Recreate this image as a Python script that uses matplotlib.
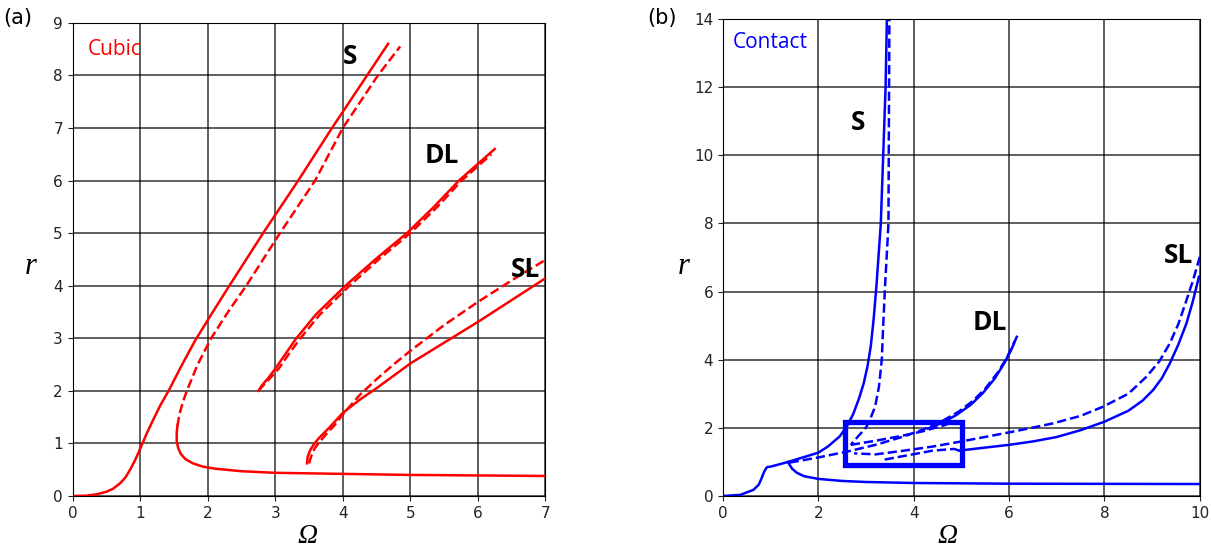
import matplotlib
matplotlib.use("Agg")
import matplotlib.pyplot as plt
from matplotlib.patches import Rectangle

plt.rcParams['font.family'] = 'DejaVu Sans'

# ---- (a) Cubic ----
cub_s_solid_x = [0, 0.2, 0.35, 0.5, 0.6, 0.7, 0.78, 0.85, 0.92, 1.0, 1.1, 1.2, 1.3, 1.42, 1.6,
                 1.81, 2.06, 2.32, 2.82, 3.34, 3.84, 4.36, 4.67]
cub_s_solid_y = [0, 0.005, 0.03, 0.08, 0.14, 0.24, 0.35, 0.5, 0.67, 0.9, 1.2, 1.47, 1.73, 2.0, 2.45,
                 2.95, 3.47, 4.0, 5.0, 6.0, 7.0, 8.0, 8.6]
cub_s_dash_x = [1.55, 1.58, 1.63, 1.69, 1.85, 2.05, 2.3, 2.57, 3.07, 3.59, 4.0, 4.52, 4.85]
cub_s_dash_y = [1.33, 1.55, 1.78, 2.0, 2.5, 3.0, 3.5, 4.0, 5.0, 6.0, 7.0, 8.0, 8.55]
cub_low_x = [1.55, 1.54, 1.54, 1.56, 1.6, 1.67, 1.78, 1.92, 2.1, 2.5, 3.0, 4.0, 5.0, 7.0]
cub_low_y = [1.33, 1.2, 1.05, 0.92, 0.8, 0.7, 0.62, 0.56, 0.52, 0.47, 0.44, 0.42, 0.4, 0.38]
cub_dl_solid_x = [2.75, 2.8, 2.9, 3.0, 3.15, 3.3, 3.6, 4.04, 4.5, 4.95, 5.35, 5.72, 6.25]
cub_dl_solid_y = [2.0, 2.1, 2.25, 2.42, 2.7, 2.98, 3.45, 4.0, 4.52, 5.0, 5.5, 6.0, 6.6]
cub_dl_dash_x = [2.75, 2.82, 2.93, 3.05, 3.2, 3.36, 3.66, 4.1, 4.55, 5.0, 5.4, 5.76, 6.2]
cub_dl_dash_y = [2.0, 2.1, 2.25, 2.42, 2.7, 2.98, 3.45, 4.0, 4.52, 5.0, 5.5, 6.0, 6.5]
cub_sl_solid_x = [3.47, 3.48, 3.52, 3.58, 3.66, 3.8, 4.0, 4.25, 4.5, 5.0, 6.0, 7.0]
cub_sl_solid_y = [0.62, 0.75, 0.88, 1.0, 1.12, 1.3, 1.58, 1.83, 2.05, 2.52, 3.31, 4.14]
cub_sl_dash_x = [3.5, 3.53, 3.58, 3.65, 3.75, 3.88, 4.0, 4.25, 4.5, 4.75, 5.0, 5.5, 6.0, 6.5, 7.0]
cub_sl_dash_y = [0.62, 0.75, 0.9, 1.02, 1.17, 1.35, 1.55, 1.92, 2.22, 2.5, 2.76, 3.25, 3.69, 4.1, 4.49]

# ---- (b) Contact ----
con_s_solid_x = [0, 0.36, 0.64, 0.75, 0.81, 0.86, 0.9, 0.93, 1.0, 1.37, 2.0, 2.2, 2.45, 2.6, 2.73, 2.85,
                 2.95, 3.03, 3.1, 3.16, 3.22, 3.27, 3.31, 3.36, 3.41, 3.44]
con_s_solid_y = [0, 0.03, 0.18, 0.33, 0.52, 0.7, 0.8, 0.85, 0.86, 1.0, 1.27, 1.45, 1.75, 2.05, 2.4, 2.85,
                 3.3, 3.8, 4.4, 5.2, 6.2, 7.2, 8.0, 10.0, 12.0, 14.2]
con_s_dash_x = [3.49, 3.47, 3.44, 3.40, 3.36, 3.33, 3.27, 3.19, 3.1, 3.01, 2.88, 2.77, 2.68]
con_s_dash_y = [14.2, 8.0, 7.2, 6.2, 5.0, 4.0, 3.2, 2.62, 2.3, 2.03, 1.82, 1.65, 1.5]
con_low_x = [1.36, 1.38, 1.45, 1.55, 1.7, 2.0, 2.5, 3.0, 4.0, 6.0, 10.0]
con_low_y = [1.0, 0.95, 0.8, 0.68, 0.58, 0.5, 0.44, 0.41, 0.38, 0.36, 0.35]
con_dl_solid_x = [4.3, 4.6, 4.9, 5.2, 5.45, 5.7, 5.9, 6.05, 6.16]
con_dl_solid_y = [1.98, 2.15, 2.38, 2.68, 3.02, 3.45, 3.9, 4.3, 4.67]
con_dl_dash_x = [1.4, 2.0, 2.6, 3.2, 3.8, 4.2, 4.6, 4.95, 5.25, 5.5, 5.75, 5.95, 6.12]
con_dl_dash_y = [0.98, 1.13, 1.3, 1.5, 1.75, 1.95, 2.2, 2.48, 2.8, 3.15, 3.6, 4.05, 4.55]
con_box_dash_x = [2.68, 3.2, 3.7, 4.2, 4.7]
con_box_dash_y = [1.5, 1.62, 1.75, 1.9, 2.1]
con_sl_solid_x = [4.95, 5.5, 6.0, 6.5, 7.0, 7.5, 8.0, 8.5, 8.8, 9.02, 9.2, 9.37, 9.55, 9.72, 9.85, 9.98]
con_sl_solid_y = [1.33, 1.42, 1.5, 1.6, 1.73, 1.93, 2.18, 2.5, 2.8, 3.11, 3.45, 3.89, 4.45, 5.07, 5.7, 6.43]
con_sl_dash_x = [10.0, 9.85, 9.72, 9.55, 9.37, 9.15, 8.88, 8.5, 7.97, 7.5, 6.92, 6.2, 5.53, 5.0, 4.4, 3.8, 3.2, 2.75]
con_sl_dash_y = [7.02, 6.3, 5.75, 5.05, 4.48, 3.95, 3.5, 3.0, 2.62, 2.35, 2.13, 1.92, 1.74, 1.6, 1.45, 1.33, 1.22, 1.25]
con_sl_low_x = [4.95, 4.85, 4.4, 3.9, 3.36]
con_sl_low_y = [1.33, 1.38, 1.33, 1.2, 1.06]

LW = 1.8
fig = plt.figure(figsize=(12.12, 5.56), dpi=100)
ax1 = fig.add_axes([0.060, 0.108, 0.390, 0.851])
ax2 = fig.add_axes([0.5965, 0.108, 0.3935, 0.858])

red = '#ff0000'
ax1.plot(cub_s_solid_x, cub_s_solid_y, color=red, lw=LW)
ax1.plot(cub_s_dash_x, cub_s_dash_y, color=red, lw=LW, ls='--')
ax1.plot(cub_low_x, cub_low_y, color=red, lw=LW)
ax1.plot(cub_dl_solid_x, cub_dl_solid_y, color=red, lw=LW)
ax1.plot(cub_dl_dash_x, cub_dl_dash_y, color=red, lw=LW, ls='--')
ax1.plot(cub_sl_solid_x, cub_sl_solid_y, color=red, lw=LW)
ax1.plot(cub_sl_dash_x, cub_sl_dash_y, color=red, lw=LW, ls='--')
ax1.set_xlim(0, 7)
ax1.set_ylim(0, 9)

blue = '#0000ff'
ax2.plot(con_s_solid_x, con_s_solid_y, color=blue, lw=LW)
ax2.plot(con_s_dash_x, con_s_dash_y, color=blue, lw=LW, ls='--')
ax2.plot(con_low_x, con_low_y, color=blue, lw=LW)
ax2.plot(con_dl_solid_x, con_dl_solid_y, color=blue, lw=LW)
ax2.plot(con_dl_dash_x, con_dl_dash_y, color=blue, lw=LW, ls='--')
ax2.plot(con_box_dash_x, con_box_dash_y, color=blue, lw=LW, ls='--')
ax2.plot(con_sl_solid_x, con_sl_solid_y, color=blue, lw=LW)
ax2.plot(con_sl_dash_x, con_sl_dash_y, color=blue, lw=LW, ls='--')
ax2.plot(con_sl_low_x, con_sl_low_y, color=blue, lw=LW, ls='--')
ax2.add_patch(Rectangle((2.56, 0.91), 2.45, 1.26, fill=False, edgecolor=blue, lw=3.8, zorder=5))
ax2.set_xlim(0, 10)
ax2.set_ylim(0, 14)
ax2.set_xticks([0, 2, 4, 6, 8, 10])
ax2.set_yticks([0, 2, 4, 6, 8, 10, 12, 14])

for ax in (ax1, ax2):
    ax.grid(True, color='black', lw=1.1, alpha=0.8)
    ax.set_axisbelow(True)
    ax.tick_params(labelsize=11, colors='#222222')
    for sp in ax.spines.values():
        sp.set_color('black')

# labels
serif = dict(family='Liberation Serif', style='italic', fontsize=22)
fig.text(0.025, 0.52, 'r', ha='center', va='center', **serif)
fig.text(0.564, 0.52, 'r', ha='center', va='center', **serif)
fig.text(0.254, 0.035, 'Ω', ha='center', va='center', family='Liberation Serif', style='italic', fontsize=20)
fig.text(0.782, 0.035, 'Ω', ha='center', va='center', family='Liberation Serif', style='italic', fontsize=20)
fig.text(0.015, 0.967, '(a)', fontsize=15, ha='center', va='center')
fig.text(0.546, 0.967, '(b)', fontsize=15, ha='center', va='center')

bold = dict(family='Open Sans', fontweight='bold', fontsize=19, ha='center', va='center')
ax1.text(0.22, 8.5, 'Cubic', color=red, family='Open Sans', fontsize=15, ha='left', va='center')
ax1.text(4.11, 8.35, 'S', **bold)
ax1.text(5.46, 6.48, 'DL', **bold)
ax1.text(6.71, 4.3, 'SL', **bold)
ax2.text(0.2, 13.3, 'Contact', color=blue, family='Open Sans', fontsize=15, ha='left', va='center')
ax2.text(2.83, 10.97, 'S', **bold)
ax2.text(5.6, 5.1, 'DL', **bold)
ax2.text(9.54, 7.07, 'SL', **bold)

fig.savefig('out.png', dpi=100)
